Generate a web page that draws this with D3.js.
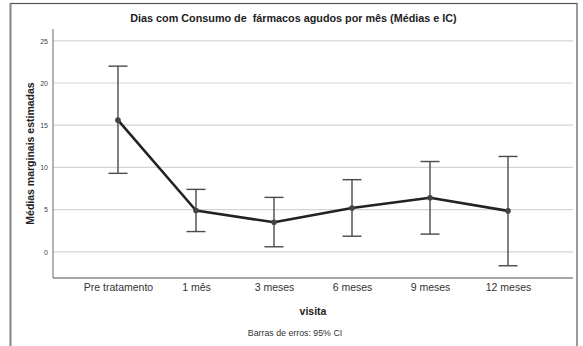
<!DOCTYPE html>
<html>
<head>
<meta charset="utf-8">
<script src="https://cdn.jsdelivr.net/npm/d3@7"></script>
<style>
  html, body { margin: 0; padding: 0; background: #fff; }
  svg { display: block; font-family: "Liberation Sans", Arial, sans-serif; }
</style>
</head>
<body>
<svg id="chart" width="583" height="346"></svg>
<script>
// Visits and estimated marginal means with 95% CI bounds
const visits = ["Pre tratamento", "1 mês", "3 meses", "6 meses", "9 meses", "12 meses"];
const means = [15.6, 4.9, 3.5, 5.2, 6.4, 4.85];
const lowerCI = [9.3, 2.4, 0.6, 1.85, 2.1, -1.65];
const upperCI = [22.0, 7.4, 6.45, 8.55, 10.7, 11.3];
const yTicks = [0, 5, 10, 15, 20, 25];

const titleText = "Dias com Consumo de  fármacos agudos por mês (Médias e IC)";
const yLabel = "Médias marginais estimadas";
const xLabel = "visita";
const footnote = "Barras de erros: 95% CI";

const rows = visits.map((v, i) => ({ visit: v, mean: means[i], lo: lowerCI[i], hi: upperCI[i] }));

const svg = d3.select("#chart");
const plot = { left: 53, right: 573, top: 29, bottom: 278 };

const x = d3.scalePoint().domain(visits).range([plot.left, plot.right]).padding(0.833);
const y = d3.scaleLinear().domain([-3.1, 26.4]).range([plot.bottom, plot.top]);

// outer frame
svg.append("rect")
  .attr("x", 10.5).attr("y", 3.5).attr("width", 566.5).attr("height", 360)
  .attr("fill", "none").attr("stroke", "#555").attr("stroke-width", 1.2);
svg.append("line")
  .attr("x1", 10.5).attr("x2", 10.5).attr("y1", 3.5).attr("y2", 346)
  .attr("stroke", "#8a8a8a").attr("stroke-width", 2);

// title
svg.append("text")
  .attr("x", 293.5).attr("y", 22)
  .attr("text-anchor", "middle")
  .attr("font-size", 10.8).attr("font-weight", "bold").attr("fill", "#222")
  .attr("xml:space", "preserve")
  .text(titleText);

// horizontal gridlines
svg.append("g").selectAll("line").data(yTicks).join("line")
  .attr("x1", plot.left).attr("x2", plot.right)
  .attr("y1", d => y(d)).attr("y2", d => y(d))
  .attr("stroke", "#d4d4d4").attr("stroke-width", 1.2);

// y axis
const yAxis = svg.append("g")
  .attr("transform", `translate(${plot.left},0)`)
  .call(d3.axisLeft(y).tickValues(yTicks).tickSize(0).tickPadding(5));
yAxis.select(".domain").remove();
yAxis.selectAll("text").attr("font-size", 7).attr("fill", "#444")
  .attr("font-family", "Liberation Sans, Arial, sans-serif");

// x axis
const xAxis = svg.append("g")
  .attr("transform", `translate(0,${plot.bottom})`)
  .call(d3.axisBottom(x).tickSize(0).tickPadding(6));
xAxis.select(".domain").remove();
xAxis.selectAll("text").attr("font-size", 10.5).attr("fill", "#333")
  .attr("font-family", "Liberation Sans, Arial, sans-serif");

// axis lines
svg.append("line")
  .attr("x1", plot.left).attr("x2", plot.left)
  .attr("y1", plot.top).attr("y2", plot.bottom)
  .attr("stroke", "#8a8a8a").attr("stroke-width", 1.3);
svg.append("line")
  .attr("x1", plot.left).attr("x2", plot.right)
  .attr("y1", plot.bottom).attr("y2", plot.bottom)
  .attr("stroke", "#8a8a8a").attr("stroke-width", 1.3);

// error bars
const capW = 9.5;
const eb = svg.append("g").attr("stroke", "#4a4a4a").attr("stroke-width", 1.4);
eb.selectAll("line.stem").data(rows).join("line").attr("class", "stem")
  .attr("x1", d => x(d.visit)).attr("x2", d => x(d.visit))
  .attr("y1", d => y(d.lo)).attr("y2", d => y(d.hi));
eb.selectAll("line.capHi").data(rows).join("line").attr("class", "capHi")
  .attr("x1", d => x(d.visit) - capW).attr("x2", d => x(d.visit) + capW)
  .attr("y1", d => y(d.hi)).attr("y2", d => y(d.hi));
eb.selectAll("line.capLo").data(rows).join("line").attr("class", "capLo")
  .attr("x1", d => x(d.visit) - capW).attr("x2", d => x(d.visit) + capW)
  .attr("y1", d => y(d.lo)).attr("y2", d => y(d.lo));

// mean line
svg.append("path").datum(rows)
  .attr("fill", "none").attr("stroke", "#222").attr("stroke-width", 2.6)
  .attr("stroke-linejoin", "round")
  .attr("d", d3.line().x(d => x(d.visit)).y(d => y(d.mean)));

// mean points
svg.append("g").selectAll("circle").data(rows).join("circle")
  .attr("cx", d => x(d.visit)).attr("cy", d => y(d.mean))
  .attr("r", 2.8).attr("fill", "#444");

// axis titles
svg.append("text")
  .attr("transform", `translate(34,${(plot.top + plot.bottom) / 2}) rotate(-90)`)
  .attr("text-anchor", "middle")
  .attr("font-size", 10.5).attr("font-weight", "bold").attr("fill", "#222")
  .text(yLabel);

svg.append("text")
  .attr("x", (plot.left + plot.right) / 2).attr("y", 315)
  .attr("text-anchor", "middle")
  .attr("font-size", 10.5).attr("font-weight", "bold").attr("fill", "#222")
  .text(xLabel);

svg.append("text")
  .attr("x", 295).attr("y", 336)
  .attr("text-anchor", "middle")
  .attr("font-size", 8.8).attr("fill", "#333")
  .text(footnote);
</script>
</body>
</html>
